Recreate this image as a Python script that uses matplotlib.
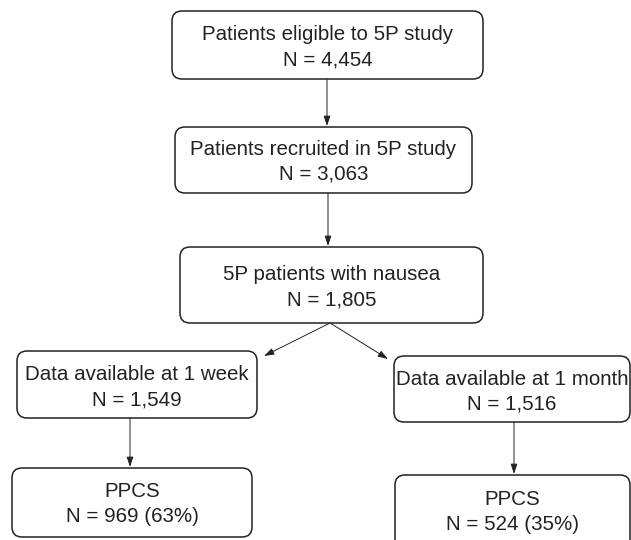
import matplotlib.pyplot as plt
from matplotlib.patches import FancyBboxPatch

# box texts (title line, count line)
titles = ["Patients eligible to 5P study", "Patients recruited in 5P study",
          "5P patients with nausea", "Data available at 1 week",
          "Data available at 1 month", "PPCS", "PPCS"]
counts = ["N = 4,454", "N = 3,063", "N = 1,805", "N = 1,549",
          "N = 1,516", "N = 969 (63%)", "N = 524 (35%)"]

# layout in pixels: left, top, right, bottom, text centre y
boxes = [(172, 11, 483, 79, 45), (175, 127, 472, 193, 160),
         (180, 247, 483, 323, 285), (17, 351, 257, 418, 385),
         (394, 356, 630, 422, 390), (12, 468, 252, 537, 502),
         (395, 475, 630, 552, 510)]
# arrows: start (x, y) -> end (x, y)
arrows = [((327, 79), (327, 126)), ((328, 193), (328, 246)),
          ((330, 323), (264, 356)), ((330, 323), (388, 359)),
          ((130, 418), (130, 467)), ((514, 422), (514, 474))]

fig = plt.figure(figsize=(6.31, 5.4), dpi=100)
ax = fig.add_axes([0, 0, 1, 1])
ax.set_xlim(0, 631)
ax.set_ylim(540, 0)
ax.axis('off')

for (l, t, r, b, cy), ttl, cnt in zip(boxes, titles, counts):
    pad = 10
    p = FancyBboxPatch((l + pad, t + pad), r - l - 2 * pad, b - t - 2 * pad,
                       boxstyle="round,pad=%d" % pad, fc='white', ec='#222222', lw=1.1)
    ax.add_patch(p)
    cx = (l + r) / 2
    for dy, s in ((-12.5, ttl), (12.5, cnt)):
        ax.text(cx, cy + dy, s, ha='center', va='center_baseline',
                fontsize=14.8, family='Liberation Sans', color='#222222')

for (x1, y1), (x2, y2) in arrows:
    ax.annotate("", xy=(x2, y2), xytext=(x1, y1),
                arrowprops=dict(arrowstyle='-|>,head_length=0.6,head_width=0.2',
                                color='#222222', lw=0.7, shrinkA=0, shrinkB=0))

fig.savefig('out.png', dpi=100)
